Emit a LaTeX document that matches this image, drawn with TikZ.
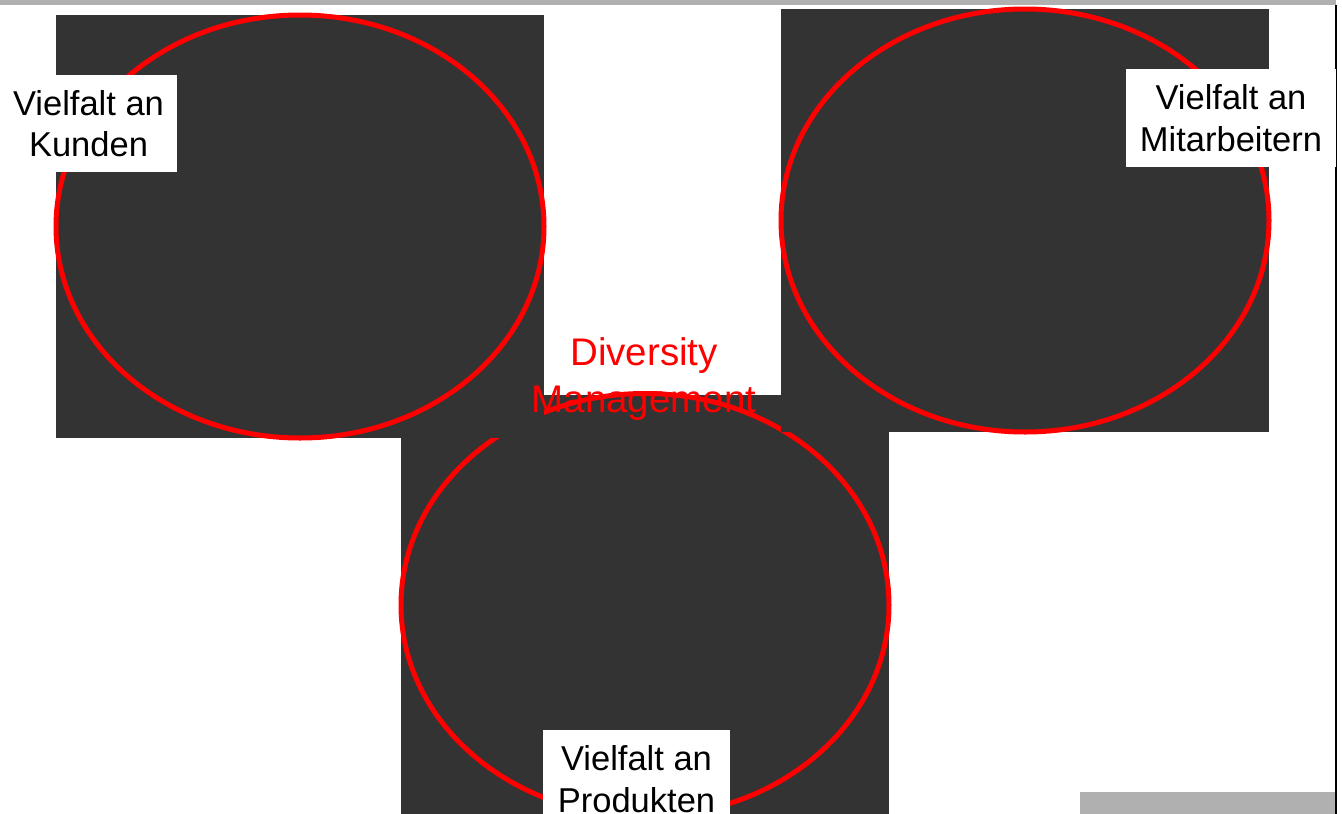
\documentclass[tikz,border=0pt]{standalone}
\usepackage{fontspec}
\setmainfont{Liberation Sans}
\usetikzlibrary{shapes.geometric}
\definecolor{darkfill}{HTML}{333333}
\definecolor{barfill}{HTML}{B0B0B0}
\tikzset{
  darkbox/.style={rectangle, fill=darkfill, draw=none, inner sep=0pt, outer sep=0pt, minimum width=488pt, minimum height=423pt},
  ring/.style={ellipse, draw=red, line width=5pt, inner sep=0pt, outer sep=0pt, minimum width=488pt, minimum height=423pt},
  labelbox/.style={rectangle, fill=white, draw=none, inner sep=0pt, outer sep=0pt, align=center, text=black, font=\fontsize{34.5}{41.5}\selectfont},
  whitebox/.style={rectangle, fill=white, draw=none, inner sep=0pt, outer sep=0pt},
  titletext/.style={align=center, text=red, inner sep=0pt, font=\fontsize{38.5}{47}\selectfont},
  bar/.style={rectangle, fill=barfill, draw=none, inner sep=0pt, outer sep=0pt}
}
\begin{document}
\begin{tikzpicture}[x=1pt, y=-1pt]
\useasboundingbox (0,0) rectangle (1342,814);
\clip (0,0) rectangle (1342,814);
% frame bars
\node[bar, minimum width=1336pt, minimum height=5pt] (topbar) at (668,2.5) {};
\node[bar, minimum width=256pt, minimum height=22pt] (bottombar) at (1208,803) {};
\coordinate (lineTop) at (1336,5);
\coordinate (lineBottom) at (1336,814);
\draw[black, line width=2pt] (lineTop) -- (lineBottom);
% bottom group
\node[darkbox] (r3) at (645,605) {};
\node[whitebox, minimum width=237pt, minimum height=100pt] (dmbox) at (662.5,345) {};
\node[ring] (e3) at (645,605) {};
% top-left group
\node[darkbox] (r1) at (300,226.5) {};
\node[ring] (e1) at (300,226.5) {};
% top-right group
\node[darkbox] (r2) at (1025,220.5) {};
\node[ring] (e2) at (1025,220.5) {};
% centre title
\node[titletext] (dm) at (644,379) {Diversity\\Management};
% labels
\node[labelbox, minimum width=177pt, minimum height=97pt] (kunden) at (88.5,123.5) {Vielfalt an\\Kunden};
\node[labelbox, minimum width=210pt, minimum height=98pt] (mitarb) at (1231,118) {Vielfalt an\\Mitarbeitern};
\node[labelbox, minimum width=187pt, minimum height=98pt] (produkt) at (636.5,779) {Vielfalt an\\Produkten};
\end{tikzpicture}
\end{document}
